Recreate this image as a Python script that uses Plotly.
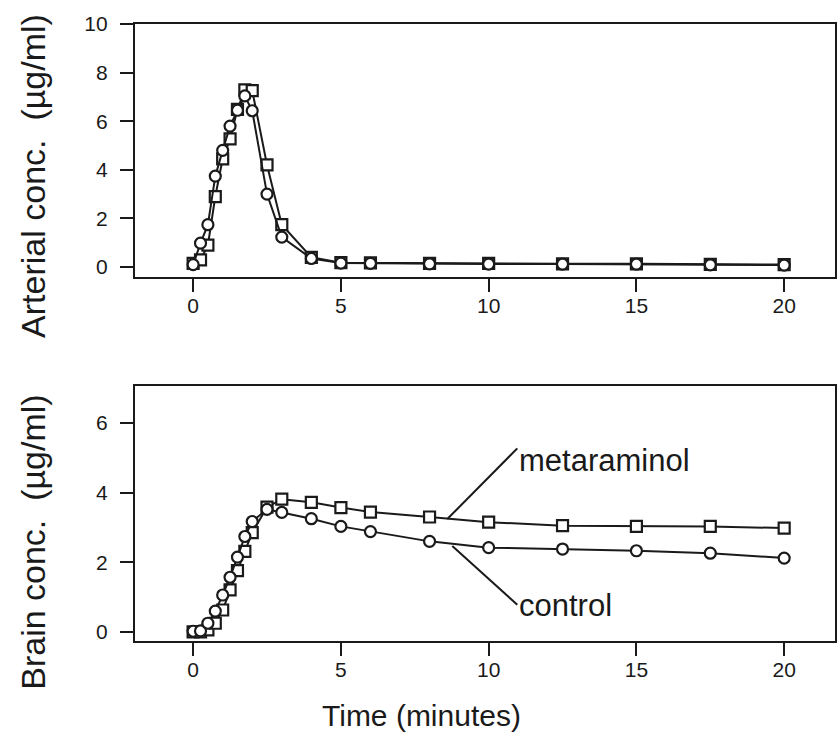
import plotly.graph_objects as go

# Sampling times (minutes)
time_min = [0, 0.25, 0.5, 0.75, 1.0, 1.25, 1.5, 1.75, 2.0, 2.5, 3, 4, 5, 6, 8, 10, 12.5, 15, 17.5, 20]

# Arterial concentration (ug/ml)
arterial_control = [0.10, 0.98, 1.74, 3.74, 4.80, 5.80, 6.45, 7.04, 6.43, 3.00, 1.23, 0.35,
                    0.16, 0.15, 0.13, 0.12, 0.12, 0.12, 0.09, 0.08]
arterial_metaraminol = [0.15, 0.29, 0.90, 2.90, 4.45, 5.27, 6.49, 7.29, 7.26, 4.20, 1.74, 0.40,
                        0.18, 0.17, 0.15, 0.15, 0.13, 0.13, 0.11, 0.10]

# Brain concentration (ug/ml)
brain_control = [0.02, 0.03, 0.25, 0.60, 1.06, 1.57, 2.15, 2.74, 3.17, 3.52, 3.43, 3.25,
                 3.03, 2.88, 2.60, 2.42, 2.38, 2.33, 2.26, 2.12]
brain_metaraminol = [0.00, 0.00, 0.06, 0.25, 0.63, 1.21, 1.76, 2.31, 2.85, 3.58, 3.81, 3.72,
                     3.57, 3.44, 3.30, 3.15, 3.05, 3.03, 3.03, 2.98]

x_ticks = [0, 5, 10, 15, 20]
arterial_ticks = [0, 2, 4, 6, 8, 10]
brain_ticks = [0, 2, 4, 6]

INK = "#1a1a1a"
FONT = "Liberation Sans, Arial, Helvetica, sans-serif"

fig = go.Figure()


def add_series(x, y, symbol, xa, ya):
    fig.add_trace(go.Scatter(
        x=x, y=y, mode="lines+markers", xaxis=xa, yaxis=ya,
        line=dict(color=INK, width=2),
        marker=dict(symbol=symbol, size=11, color="white",
                    line=dict(color=INK, width=2.2)),
        showlegend=False, hoverinfo="x+y",
    ))


add_series(time_min, arterial_metaraminol, "square", "x", "y")
add_series(time_min, arterial_control, "circle", "x", "y")
add_series(time_min, brain_metaraminol, "square", "x2", "y2")
add_series(time_min, brain_control, "circle", "x2", "y2")

x_common = dict(
    range=[-1.967, 21.72], tickvals=x_ticks, ticks="outside", ticklen=13,
    tickwidth=2, tickcolor=INK, showline=True, linecolor=INK, linewidth=2.2,
    mirror=True, showgrid=False, zeroline=False, ticklabelstandoff=-4,
    tickfont=dict(family=FONT, size=21, color=INK),
)
y_common = dict(
    ticks="outside", ticklen=13, tickwidth=2, tickcolor=INK,
    showline=True, linecolor=INK, linewidth=2.2, mirror=True,
    showgrid=False, zeroline=False, ticklabelstandoff=8,
    tickfont=dict(family=FONT, size=21, color=INK),
)

fig.update_layout(
    width=838, height=750,
    margin=dict(l=135, r=1, t=24, b=109),
    paper_bgcolor="white", plot_bgcolor="white",
    xaxis=dict(x_common, domain=[0, 1], anchor="y"),
    yaxis=dict(y_common, domain=[0.59, 1.0], range=[-0.41, 10], tickvals=arterial_ticks, anchor="x"),
    xaxis2=dict(x_common, domain=[0, 1], anchor="y2"),
    yaxis2=dict(y_common, domain=[0, 0.4133], range=[-0.26, 7.06], tickvals=brain_ticks, anchor="x2"),
)

title_font = dict(family=FONT, size=34, color=INK)
fig.add_annotation(text="Arterial conc.  (µg/ml)", textangle=-90, xref="paper", yref="paper",
                   x=-0.145, y=0.753, xanchor="center", yanchor="middle",
                   showarrow=False, font=title_font)
fig.add_annotation(text="Brain conc.  (µg/ml)", textangle=-90, xref="paper", yref="paper",
                   x=-0.145, y=0.16, xanchor="center", yanchor="middle",
                   showarrow=False, font=title_font)
fig.add_annotation(text="Time (minutes)", xref="paper", yref="paper",
                   x=0.4088, y=-0.12, xanchor="center", yanchor="middle",
                   showarrow=False, font=dict(family=FONT, size=30, color=INK))

# Series labels with leader lines
label_font = dict(family=FONT, size=31, color=INK)
fig.add_shape(type="line", xref="x2", yref="y2", x0=8.6, y0=3.24, x1=10.97, y1=5.27,
              line=dict(color=INK, width=2))
fig.add_shape(type="line", xref="x2", yref="y2", x0=8.77, y0=2.47, x1=10.97, y1=0.78,
              line=dict(color=INK, width=2))
fig.add_annotation(text="metaraminol", xref="x2", yref="y2", x=10.97, y=4.93,
                   xanchor="left", yanchor="middle", showarrow=False, font=label_font)
fig.add_annotation(text="control", xref="x2", yref="y2", x=10.97, y=0.75,
                   xanchor="left", yanchor="middle", showarrow=False, font=label_font)

fig.write_html("out.html")
